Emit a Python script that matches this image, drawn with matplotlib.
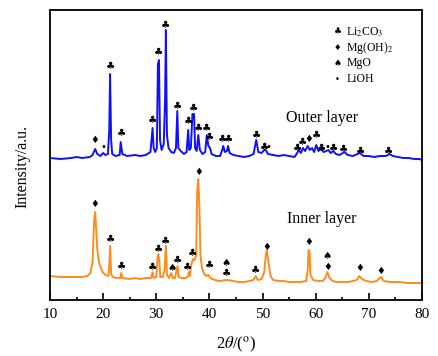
import matplotlib
matplotlib.use("Agg")
import matplotlib.pyplot as plt

plt.rcParams['font.family'] = ['Liberation Serif', 'DejaVu Sans']
plt.rcParams['mathtext.fontset'] = 'stix'

# outer layer pattern (2theta, intensity)
outer_x = [10.0, 12.0, 14.0, 15.0, 16.0, 17.5, 18.0, 18.5, 18.9, 19.5, 20.0, 20.4, 20.9,
           21.15, 21.3, 21.5, 21.7, 22.3, 23.1, 23.3, 23.6, 24.5, 26.0, 27.0, 28.0, 28.9,
           29.3, 29.5, 29.8, 30.1, 30.3, 30.5, 30.7, 31.0, 31.4, 31.65, 31.8, 32.0, 32.3,
           32.8, 33.3, 33.7, 33.95, 34.15, 34.6, 35.2, 35.7, 36.0, 36.2, 36.5, 36.8, 37.1,
           37.3, 37.6, 37.9, 38.2, 38.7, 39.2, 39.5, 39.8, 40.1, 40.4, 41.2, 42.0, 42.4,
           42.6, 42.9, 43.3, 43.5, 43.8, 44.5, 45.5, 46.5, 47.5, 48.3, 48.8, 49.2, 49.8,
           50.3, 50.6, 51.0, 52.0, 53.0, 54.0, 55.0, 56.0, 56.4, 56.8, 57.2, 57.6, 58.0,
           58.5, 58.9, 59.3, 59.7, 60.1, 60.5, 61.0, 61.5, 62.0, 62.4, 62.8, 63.3, 63.8,
           64.5, 65.4, 66.0, 67.0, 68.3, 69.0, 70.0, 71.0, 72.0, 73.2, 73.9, 74.5, 75.5,
           76.5, 77.5, 78.5, 79.5, 80.0]
outer_y = [142, 141, 142, 143, 142, 143, 145, 151, 146, 144, 147, 145, 146,
           170, 226, 160, 146, 144, 145, 158, 146, 144, 145, 144, 145, 148,
           172, 152, 148, 152, 236, 240, 160, 150, 156, 200, 270, 165, 152,
           148, 147, 152, 189, 152, 149, 146, 148, 170, 150, 152, 186, 186,
           152, 149, 165, 150, 146, 148, 165, 154, 152, 146, 144, 144, 150,
           154, 148, 149, 154, 147, 145, 144, 143, 144, 146, 160, 148, 147,
           150, 150, 146, 145, 144, 145, 144, 143, 146, 150, 147, 152, 149,
           154, 150, 152, 148, 155, 149, 151, 148, 149, 150, 147, 149, 146,
           145, 148, 145, 144, 147, 144, 144, 143, 144, 144, 146, 144, 143,
           142, 142, 141, 141, 140]

# inner layer pattern
inner_x = [10.0, 12.0, 14.0, 16.0, 17.0, 17.6, 18.0, 18.3, 18.5, 18.7, 18.9, 19.2, 19.5,
           20.0, 20.5, 21.0, 21.15, 21.3, 21.5, 21.8, 22.5, 23.2, 23.4, 23.6, 25.0, 26.0,
           27.0, 28.0, 29.0, 29.3, 29.5, 30.0, 30.25, 30.4, 30.55, 30.75, 31.2, 31.55,
           31.8, 32.0, 32.4, 32.8, 33.1, 33.5, 34.0, 34.2, 34.8, 35.5, 36.0, 36.1, 36.3,
           36.6, 36.9, 37.2, 37.5, 37.7, 37.9, 38.1, 38.3, 38.6, 39.0, 39.5, 39.8, 40.2,
           41.0, 42.0, 43.0, 43.5, 44.5, 45.5, 46.5, 47.5, 48.3, 48.7, 49.1, 49.8, 50.3,
           50.6, 50.8, 51.1, 51.5, 52.0, 53.0, 54.0, 55.0, 56.0, 57.0, 58.2, 58.5, 58.65,
           58.85, 59.0, 59.5, 60.5, 61.3, 61.8, 62.2, 62.6, 63.2, 64.0, 65.0, 66.0, 67.0,
           67.7, 68.2, 68.7, 69.5, 70.5, 71.5, 72.0, 72.3, 72.8, 74.0, 75.0, 76.0, 77.0,
           78.0, 79.0, 80.0]
inner_y = [24, 23, 23, 23, 24, 27, 38, 80, 88, 70, 50, 38, 33,
           27, 25, 24, 35, 54, 26, 23, 22, 22, 27, 22, 21, 22,
           21, 22, 22, 28, 22, 23, 44, 46, 40, 23, 23, 30,
           54, 25, 22, 27, 22, 22, 34, 23, 22, 22, 24, 28, 24,
           36, 41, 40, 45, 110, 121, 95, 45, 32, 26, 24, 25, 22,
           20, 19, 20, 20, 19, 18, 18, 19, 20, 24, 20, 21, 28,
           45, 50, 38, 24, 20, 19, 19, 18, 18, 18, 19, 30, 50,
           48, 25, 20, 19, 19, 22, 28, 22, 19, 18, 18, 18, 19,
           20, 24, 21, 19, 18, 19, 22, 23, 19, 18, 18, 18, 17,
           17, 17, 17]

# phase marks: (2theta, height, phase)
outer_marks = [(18.5, 160, 'Mg(OH)2'), (20.1, 153, 'LiOH'), (21.3, 234, 'Li2CO3'),
               (23.4, 167, 'Li2CO3'), (29.3, 180, 'Li2CO3'), (30.45, 248, 'Li2CO3'),
               (31.8, 275, 'Li2CO3'), (34.0, 194, 'Li2CO3'), (36.1, 179, 'Li2CO3'),
               (37.0, 192, 'Li2CO3'), (38.0, 172, 'Li2CO3'), (39.5, 172, 'Li2CO3'),
               (40.1, 163, 'Li2CO3'), (42.5, 161, 'Li2CO3'), (43.6, 161, 'Li2CO3'),
               (48.8, 165, 'Li2CO3'), (50.4, 153, 'Li2CO3'), (51.1, 153, 'LiOH'),
               (56.5, 152, 'Li2CO3'), (57.5, 158, 'Li2CO3'), (58.6, 161, 'Mg(OH)2'),
               (60.05, 165, 'Li2CO3'), (61.0, 152, 'Li2CO3'), (62.25, 153, 'LiOH'),
               (63.3, 152, 'Li2CO3'), (65.2, 151, 'Li2CO3'), (68.5, 149, 'Li2CO3'),
               (73.7, 149, 'Li2CO3')]
inner_marks = [(18.5, 96, 'Mg(OH)2'), (21.3, 61, 'Li2CO3'), (23.4, 34, 'Li2CO3'),
               (29.3, 33, 'Li2CO3'), (30.4, 51, 'Li2CO3'), (31.8, 59, 'Li2CO3'),
               (32.9, 32, 'MgO'), (33.9, 40, 'Li2CO3'), (35.9, 33, 'Li2CO3'),
               (36.8, 47, 'Li2CO3'), (37.9, 128, 'Mg(OH)2'), (40.0, 35, 'Li2CO3'),
               (43.2, 37, 'MgO'), (43.2, 27, 'Li2CO3'), (48.7, 30, 'Li2CO3'),
               (50.8, 53, 'Mg(OH)2'), (58.7, 58, 'Mg(OH)2'), (62.2, 44, 'MgO'),
               (62.2, 33, 'Mg(OH)2'), (68.2, 32, 'Mg(OH)2'), (72.2, 29, 'Mg(OH)2')]

phases = ['Li2CO3', 'Mg(OH)2', 'MgO', 'LiOH']
phase_labels = ['Li$_2$CO$_3$', 'Mg(OH)$_2$', 'MgO', 'LiOH']
phase_symbols = {'Li2CO3': '\u2663', 'Mg(OH)2': '\u2666', 'MgO': '\u2660', 'LiOH': '\u2022'}
phase_sizes = {'Li2CO3': 7.5, 'Mg(OH)2': 7, 'MgO': 7.5, 'LiOH': 7}

fig = plt.figure(figsize=(4.38, 3.56), dpi=100)
ax = fig.add_axes([0.1142, 0.1573, 0.8493, 0.8146])

ax.plot(outer_x, outer_y, color='#1010ff', lw=1.4)
ax.plot(inner_x, inner_y, color='#ff8c1e', lw=1.4)

for marks in (outer_marks, inner_marks):
    for x, y, p in marks:
        ax.text(x, y, phase_symbols[p], ha='center', va='center',
                fontsize=phase_sizes[p], family=['DejaVu Sans'])

# legend built by hand, like the original
for i, (p, lab) in enumerate(zip(phases, phase_labels)):
    yy = 0.924 - i * 0.054
    ax.text(0.773, yy, phase_symbols[p], transform=ax.transAxes, ha='center',
            va='center', fontsize=phase_sizes[p] - 1, family=['DejaVu Sans'])
    ax.text(0.796, yy, lab, transform=ax.transAxes, ha='left', va='center', fontsize=8.5)

ax.text(61.1, 182, 'Outer layer', ha='center', va='center', fontsize=11.5)
ax.text(61.1, 81, 'Inner layer', ha='center', va='center', fontsize=11.5)

ax.set_xlim(10, 80)
ax.set_ylim(0, 290)
ax.set_xticks(range(10, 81, 10))
ax.set_xticks(range(15, 80, 10), minor=True)
ax.set_yticks([])
ax.tick_params(axis='x', which='major', direction='in', length=5, width=1.2, labelsize=11, pad=6)
ax.tick_params(axis='x', which='minor', direction='in', length=2.5, width=1.2)
for s in ax.spines.values():
    s.set_linewidth(1.3)

ax.set_xlabel(r'2$\it{\theta}$/($^{\rm o}$)', fontsize=12, labelpad=10)
ax.set_ylabel('Intensity/a.u.', fontsize=11.5)
ax.yaxis.set_label_coords(-0.052, 0.46)

fig.savefig('out.png', dpi=100)
